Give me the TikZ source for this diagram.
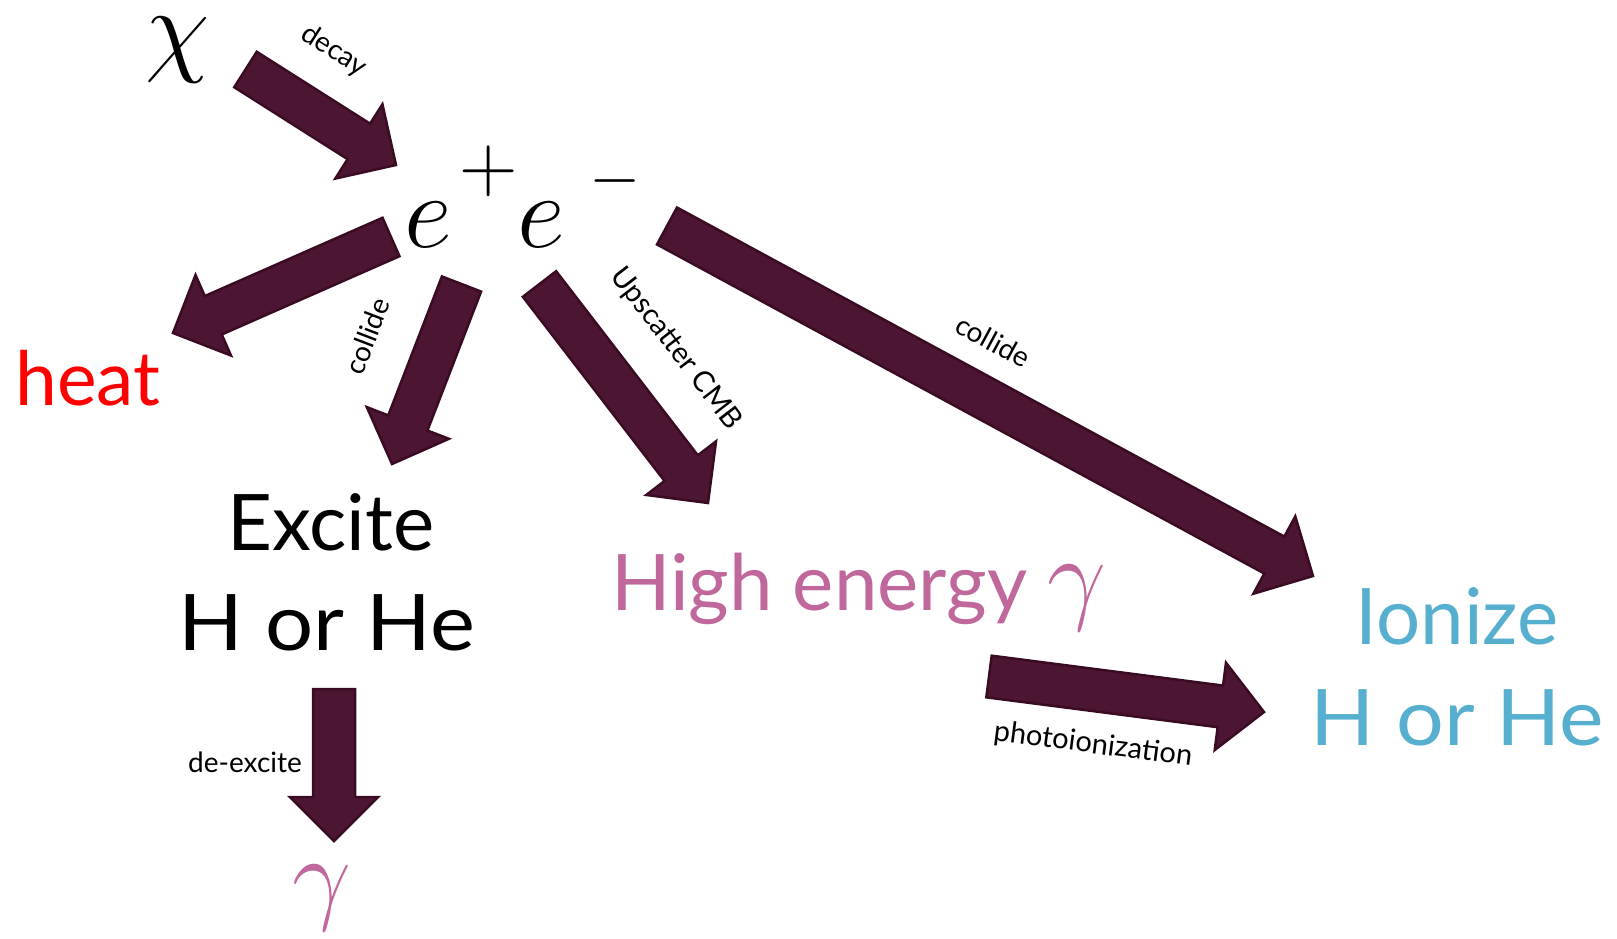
\RequirePackage{fix-cm}
\documentclass[tikz,border=0pt]{standalone}
\usepackage{graphicx}
\usepackage{fontspec}
\setmainfont{Lato}
\usetikzlibrary{calc}

\definecolor{arrowfill}{RGB}{76,21,50}
\definecolor{arrowedge}{RGB}{58,12,36}
\definecolor{heatred}{RGB}{255,0,0}
\definecolor{photonpink}{RGB}{192,104,155}
\definecolor{ionblue}{RGB}{87,175,207}

\tikzset{
  blockarrow/.style={fill=arrowfill, draw=arrowedge, line width=2.5pt, line join=miter},
  bigtext/.style={font=\fontsize{78}{78}\selectfont, inner sep=0pt},
  mathbig/.style={font=\fontsize{105}{105}\selectfont, inner sep=0pt},
  lbl/.style={font=\fontsize{28}{28}\selectfont, inner sep=0pt},
}

% wide block arrow from tail #1 to tip #2
\newcommand\blockarrow[2]{%
  \coordinate (ba-base) at ($(#2)!44pt!(#1)$);
  \filldraw[blockarrow]
    ($(#1)!21pt!90:(#2)$) -- ($(ba-base)!21pt!90:(#2)$) --
    ($(ba-base)!44pt!90:(#2)$) -- (#2) --
    ($(ba-base)!44pt!-90:(#2)$) -- ($(ba-base)!21pt!-90:(#2)$) --
    ($(#1)!21pt!-90:(#2)$) -- cycle;
}
% large raised charge sign
\newcommand\charge[3]{\raisebox{#2}{\fontsize{#1}{#1}\selectfont$#3$}}

\begin{document}
\begin{tikzpicture}[x=1pt, y=-1pt]
\useasboundingbox (0,0) rectangle (1617,938);

% particles and processes
\node[mathbig] (chi) at (178,50) {$\chi$};
\node[mathbig, anchor=base west] (ee) at (404,247)
  {$e$\kern8pt\charge{81}{56pt}{+}\kern-1pt$e$\kern25pt\charge{66}{50pt}{-}};
\node[bigtext, text=heatred, anchor=base west] (heat) at (15,405)
  {\fontsize{75}{75}\selectfont heat};
\node[bigtext, anchor=base] (excite) at (331,550) {Excite};
\node[bigtext, anchor=base] (exciteHe) at (327,650) {\scalebox{1.09}[1]{H or He}};
\node[bigtext, text=photonpink, anchor=base west] (high) at (611,610)
  {High energy {\fontsize{105}{105}\selectfont$\gamma$}};
\node[bigtext, text=ionblue, anchor=base] (ionize) at (1457,644) {Ionize};
\node[bigtext, text=ionblue, anchor=base] (ionizeHe) at (1457,745) {\scalebox{1.08}[1]{H or He}};
\node[mathbig, text=photonpink] (gamma) at (322,898) {$\gamma$};

% arrow ends
\coordinate (decayT) at (245.5,69.5);   \coordinate (decayH) at (396,165);
\coordinate (heatT) at (391,237);       \coordinate (heatH) at (173,333);
\coordinate (collAT) at (461.5,284);    \coordinate (collAH) at (392,464);
\coordinate (upT) at (539.5,284);       \coordinate (upH) at (708,503);
\coordinate (collBT) at (667,226);      \coordinate (collBH) at (1313,576);
\coordinate (photoT) at (989,676.5);    \coordinate (photoH) at (1264,712);
\coordinate (deexT) at (334,689);       \coordinate (deexH) at (334,841);

\blockarrow{decayT}{decayH}
\blockarrow{heatT}{heatH}
\blockarrow{collAT}{collAH}
\blockarrow{upT}{upH}
\blockarrow{collBT}{collBH}
\blockarrow{photoT}{photoH}
\blockarrow{deexT}{deexH}

% arrow labels
\node[lbl, rotate=-32.4] (lDecay) at (334,51) {decay};
\node[lbl, rotate=69] (lCollideA) at (367,336) {collide};
\node[lbl, rotate=-52.4, font=\fontsize{29}{29}\selectfont] (lUp) at (676,349) {Upscatter CMB};
\node[lbl, rotate=-28.4] (lCollideB) at (993,341) {collide};
\node[lbl, rotate=-7.4, font=\fontsize{29}{29}\selectfont] (lPhoto) at (1093,745) {photoionization};
\node[lbl, anchor=base] (lDeex) at (245,772) {de-excite};
\end{tikzpicture}
\end{document}
